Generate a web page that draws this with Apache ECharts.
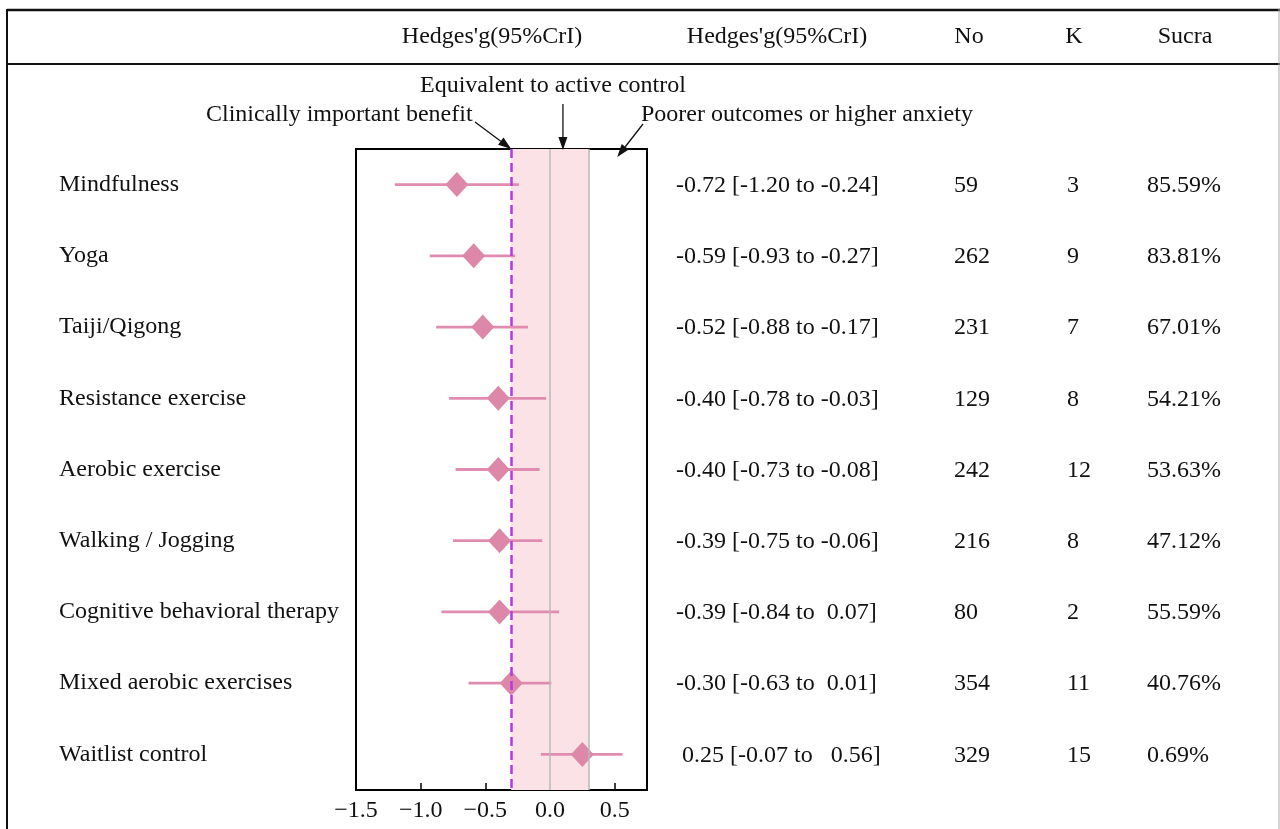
<!DOCTYPE html>
<html><head><meta charset="utf-8">
<script src="https://cdn.jsdelivr.net/npm/echarts@6/dist/echarts.min.js"></script>
<style>html,body{margin:0;padding:0;background:#fff}#chart{width:1280px;height:829px}</style>
</head><body><div id="chart"></div>
<script>
const categories = ['Mindfulness','Yoga','Taiji/Qigong','Resistance exercise','Aerobic exercise','Walking / Jogging','Cognitive behavioral therapy','Mixed aerobic exercises','Waitlist control'];
const estimates = [-0.72,-0.59,-0.52,-0.40,-0.40,-0.39,-0.39,-0.30,0.25];
const ciLower   = [-1.20,-0.93,-0.88,-0.78,-0.73,-0.75,-0.84,-0.63,-0.07];
const ciUpper   = [-0.24,-0.27,-0.17,-0.03,-0.08,-0.06,0.07,0.01,0.56];
const ciLabels  = ['-0.72 [-1.20 to -0.24]','-0.59 [-0.93 to -0.27]','-0.52 [-0.88 to -0.17]','-0.40 [-0.78 to -0.03]','-0.40 [-0.73 to -0.08]','-0.39 [-0.75 to -0.06]','-0.39 [-0.84 to  0.07]','-0.30 [-0.63 to  0.01]',' 0.25 [-0.07 to   0.56]'];
const participants = [59,262,231,129,242,216,80,354,329];
const studies = [3,9,7,8,12,8,2,11,15];
const sucra = ['85.59%','83.81%','67.01%','54.21%','53.63%','47.12%','55.59%','40.76%','0.69%'];
const headers = ["Hedges'g(95%CrI)","Hedges'g(95%CrI)",'No','K','Sucra'];
const xTicks = [-1.5,-1.0,-0.5,0.0,0.5];
const benefitLine = -0.3;
const zeroLine = 0;
const upperLine = 0.3;
const annotationTexts = ['Equivalent to active control','Clinically important benefit','Poorer outcomes or higher anxiety'];
const annotationTargets = [0.1, -0.3, 0.52];

const FONT = '"Liberation Serif","Times New Roman",serif';
const TXT = '#111';
const chart = echarts.init(document.getElementById('chart'), null, {renderer:'canvas'});

const fmt = v => {
  const r = Math.round(v*100)/100;
  if (!xTicks.some(t => Math.abs(t-r) < 1e-9)) return '';
  return (r < 0 ? '\u2212' : '') + Math.abs(r).toFixed(1);
};

const colX = [676, 954, 1067, 1147];

const option = {
  animation:false,
  backgroundColor:'#fff',
  grid:{left:356, top:149, width:291, height:641, show:true, borderColor:'#000', borderWidth:2, backgroundColor:'transparent'},
  xAxis:{type:'value', min:-1.5, max:0.75, interval:0.5,
    axisLine:{show:true, onZero:false, lineStyle:{color:'#000', width:2}},
    axisTick:{show:true, inside:true, length:7, lineStyle:{color:'#000', width:1.5}},
    splitLine:{show:false},
    axisLabel:{fontFamily:FONT, fontSize:24, color:TXT, margin:9, formatter:fmt}},
  yAxis:{type:'category', data:categories, inverse:true,
    axisLine:{show:false}, axisTick:{show:false}, splitLine:{show:false},
    axisLabel:{align:'left', margin:297, fontFamily:FONT, fontSize:24, color:TXT}},
  series:[
    {type:'line', name:'band', data:[], z:1, silent:true,
     markArea:{silent:true, itemStyle:{color:'#fae2e6'}, data:[[{xAxis:benefitLine},{xAxis:upperLine}]]},
     markLine:{silent:true, symbol:'none', label:{show:false},
       lineStyle:{color:'#b8b8b8', width:1.5, type:'solid'},
       data:[{xAxis:zeroLine},{xAxis:upperLine}]}},
    {type:'custom', name:'CI', z:3, clip:false,
     encode:{x:[0,1], y:2},
     data:categories.map((c,i)=>[ciLower[i], ciUpper[i], i]),
     renderItem:(params, api)=>{
       const lo = api.coord([api.value(0), api.value(2)]);
       const hi = api.coord([api.value(1), api.value(2)]);
       return {type:'line', shape:{x1:lo[0], y1:lo[1], x2:hi[0], y2:hi[1]}, style:{stroke:'#e08cb0', lineWidth:2.8}};
     }},
    {type:'scatter', name:'estimate', z:4, symbol:'diamond', symbolSize:[23,25],
     itemStyle:{color:'#de88a9', opacity:1},
     data:categories.map((c,i)=>[estimates[i], i])},
    {type:'line', name:'benefit', data:[], z:6, silent:true,
     markLine:{silent:true, symbol:'none', label:{show:false},
       lineStyle:{color:'#b43be0', width:2.5, type:[9,5]},
       data:[{xAxis:benefitLine}]}},
    {type:'custom', name:'table', z:5, clip:false,
     encode:{x:0, y:1},
     data:categories.map((c,i)=>[0, i]),
     renderItem:(params, api)=>{
       const i = params.dataIndex;
       const y = api.coord([0, api.value(1)])[1];
       const vals = [ciLabels[i], String(participants[i]), String(studies[i]), sucra[i]];
       return {type:'group', children: vals.map((t,k)=>({type:'text', x:colX[k], y:y+1,
         style:{text:t, fill:TXT, font:'24px '+FONT, textAlign:'left', textVerticalAlign:'middle'}}))};
     }}
  ]
};
chart.setOption(option);

function arrow(x1,y1,x2,y2){
  const ang = Math.atan2(y2-y1, x2-x1);
  const L = 13, W = 4.5;
  const bx = x2 - L*Math.cos(ang), by = y2 - L*Math.sin(ang);
  const px = -Math.sin(ang)*W, py = Math.cos(ang)*W;
  return [
    {type:'line', shape:{x1:x1,y1:y1,x2:bx,y2:by}, style:{stroke:'#111', lineWidth:1.3}, z:20},
    {type:'polygon', shape:{points:[[x2,y2],[bx+px,by+py],[bx-px,by-py]]}, style:{fill:'#111'}, z:20}
  ];
}
const px = v => chart.convertToPixel({gridIndex:0}, [v, 0])[0];
const textStyle = (t, align) => ({text:t, fill:TXT, font:'24px '+FONT, textAlign:align, textVerticalAlign:'middle'});
const headerX = [492, 777, 969, 1074, 1185];
const graphics = [
  {type:'line', shape:{x1:7,y1:10,x2:1280,y2:10}, style:{stroke:'#111', lineWidth:2.5}},
  {type:'line', shape:{x1:7,y1:64,x2:1280,y2:64}, style:{stroke:'#111', lineWidth:2}},
  {type:'line', shape:{x1:7,y1:9,x2:7,y2:829}, style:{stroke:'#111', lineWidth:2}},
  {type:'line', shape:{x1:1279,y1:9,x2:1279,y2:829}, style:{stroke:'#aaa', lineWidth:1}},
  ...headers.map((h,k)=>({type:'text', x:headerX[k], y:37, style:textStyle(h,'center')})),
  {type:'text', x:420, y:86, style:textStyle(annotationTexts[0],'left')},
  {type:'text', x:206, y:115, style:textStyle(annotationTexts[1],'left')},
  {type:'text', x:641, y:115, style:textStyle(annotationTexts[2],'left')},
  ...arrow(px(annotationTargets[0]), 104, px(annotationTargets[0]), 150),
  ...arrow(475, 122, px(annotationTargets[1]), 149),
  ...arrow(643, 124, px(annotationTargets[2]), 157)
];
chart.setOption({graphic:graphics});
</script></body></html>
